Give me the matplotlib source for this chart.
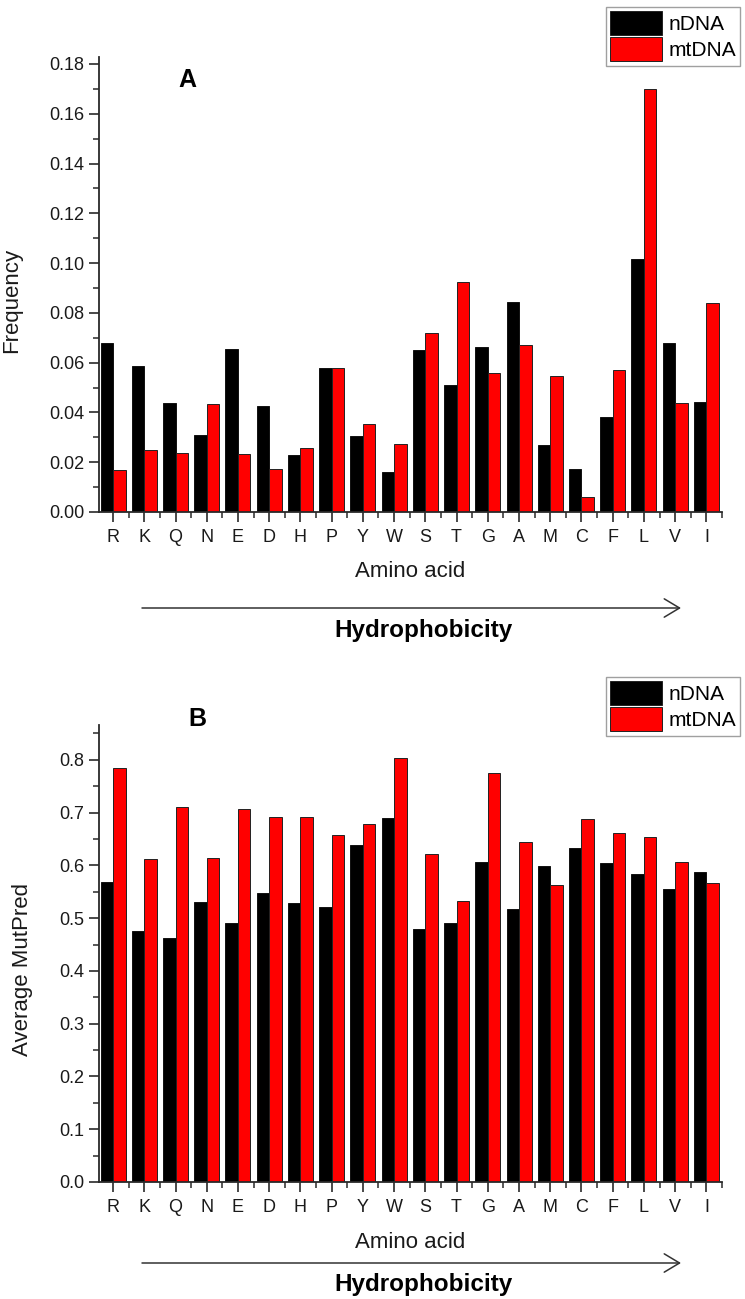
import numpy as np
import matplotlib
matplotlib.use('Agg')
import matplotlib.pyplot as plt
from matplotlib.patches import Patch, FancyArrowPatch
from matplotlib.ticker import MultipleLocator

# Data

amino_acids = ['R', 'K', 'Q', 'N', 'E', 'D', 'H', 'P', 'Y', 'W',
               'S', 'T', 'G', 'A', 'M', 'C', 'F', 'L', 'V', 'I']

freq_ndna = [0.068, 0.0588, 0.0439, 0.0311, 0.0656, 0.0427, 0.0229, 0.0577, 0.0304, 0.0161,
             0.0652, 0.0509, 0.0661, 0.0845, 0.0268, 0.0171, 0.0381, 0.1015, 0.068, 0.0441]
freq_mtdna = [0.0167, 0.0251, 0.0239, 0.0432, 0.0232, 0.0173, 0.0256, 0.0577, 0.0355, 0.0275,
              0.0721, 0.0923, 0.0557, 0.0672, 0.0547, 0.0059, 0.0569, 0.1698, 0.0439, 0.084]

mutpred_ndna = [0.569, 0.475, 0.462, 0.531, 0.491, 0.547, 0.529, 0.521, 0.638, 0.690,
                0.479, 0.490, 0.607, 0.517, 0.598, 0.632, 0.605, 0.583, 0.555, 0.588]
mutpred_mtdna = [0.784, 0.612, 0.710, 0.614, 0.706, 0.692, 0.691, 0.657, 0.678, 0.803,
                 0.621, 0.532, 0.775, 0.645, 0.562, 0.688, 0.662, 0.653, 0.607, 0.567]

series_names = ['nDNA', 'mtDNA']
series_colors = ['#000000', '#ff0000']

plt.rcParams['font.family'] = ['Liberation Sans', 'DejaVu Sans']

W, H = 745, 1299
fig = plt.figure(figsize=(W / 100, H / 100), dpi=100)

x = np.arange(len(amino_acids))
bw = 0.4
spine_col = '#2a2a2a'


def px(xp, yp):
    # pixel position -> figure fraction
    return xp / W, 1 - yp / H


def draw_panel(rect, nd, mt, ylim, major, minor, fmt, ylabel, ylabel_x, letter, letter_pos, leg_top):
    ax = fig.add_axes(rect)
    ax.bar(x - bw / 2, nd, bw, color=series_colors[0], edgecolor='#111111', linewidth=0.7)
    ax.bar(x + bw / 2, mt, bw, color=series_colors[1], edgecolor='#222222', linewidth=0.7)
    ax.set_xlim(-0.45, 19.5)
    ax.set_ylim(0, ylim)
    ax.set_xticks(x)
    ax.set_xticklabels(amino_acids)
    ax.set_xticks(x + 0.5, minor=True)
    ax.yaxis.set_major_locator(MultipleLocator(major))
    ax.yaxis.set_minor_locator(MultipleLocator(minor))
    ax.yaxis.set_major_formatter(plt.FormatStrFormatter(fmt))
    for s in ['top', 'right']:
        ax.spines[s].set_visible(False)
    for s in ['left', 'bottom']:
        ax.spines[s].set_color(spine_col)
        ax.spines[s].set_linewidth(1.3)
    ax.tick_params(which='major', direction='out', length=7.5, width=1.2, color=spine_col,
                   labelsize=13, labelcolor='#1a1a1a')
    ax.tick_params(which='minor', direction='out', length=4, width=1.1, color=spine_col)
    ax.tick_params(axis='x', pad=5)
    ax.tick_params(axis='y', pad=3)
    ax.set_xlabel('Amino acid', fontsize=16, color='#1a1a1a')
    ax.set_ylabel(ylabel, fontsize=16, color='#1a1a1a')
    ax.yaxis.set_label_coords(ylabel_x, 0.466)

    lx, ly = px(*letter_pos)
    fig.text(lx, ly, letter, fontsize=18, fontweight='bold', ha='center', va='center')

    handles = [Patch(facecolor=c, edgecolor='#222222', linewidth=0.7) for c in series_colors]
    leg = fig.legend(handles, series_names, loc='upper left', bbox_to_anchor=px(606, leg_top),
                     fontsize=15, handlelength=2.5, handleheight=1.4, labelspacing=0.1,
                     handletextpad=0.3, borderpad=0.2, borderaxespad=0, fancybox=False,
                     frameon=True)
    leg.get_frame().set_edgecolor('#888888')
    leg.get_frame().set_linewidth(1.0)
    return ax


axA = draw_panel([99 / W, 1 - 512 / H, 623 / W, 455 / H], freq_ndna, freq_mtdna,
                 0.1828, 0.02, 0.01, '%.2f', 'Frequency', -0.124, 'A', (187, 80), 7)
axB = draw_panel([99 / W, 1 - 1182 / H, 623 / W, 457 / H], mutpred_ndna, mutpred_mtdna,
                 0.866, 0.1, 0.05, '%.1f', 'Average MutPred', -0.106, 'B', (197, 719), 677)

axA.xaxis.set_label_coords(((410 - 99) / 623), -(572 - 512) / 455)
axB.xaxis.set_label_coords(((410 - 99) / 623), -(1242 - 1182) / 457)
axA.xaxis.label.set_va('center')
axB.xaxis.label.set_va('center')

# hydrophobicity arrows
for ay, ty in [(608, 630), (1263, 1284)]:
    fig.add_artist(FancyArrowPatch(px(142, ay), px(681, ay), transform=fig.transFigure,
                                   arrowstyle='->,head_length=0.5,head_width=0.3',
                                   mutation_scale=22, color='#333333', linewidth=1.1,
                                   shrinkA=0, shrinkB=0))
    tx, tyy = px(423, ty)
    fig.text(tx, tyy, 'Hydrophobicity', fontsize=17.5, fontweight='bold',
             ha='center', va='center')

fig.savefig('out.png', dpi=100)
